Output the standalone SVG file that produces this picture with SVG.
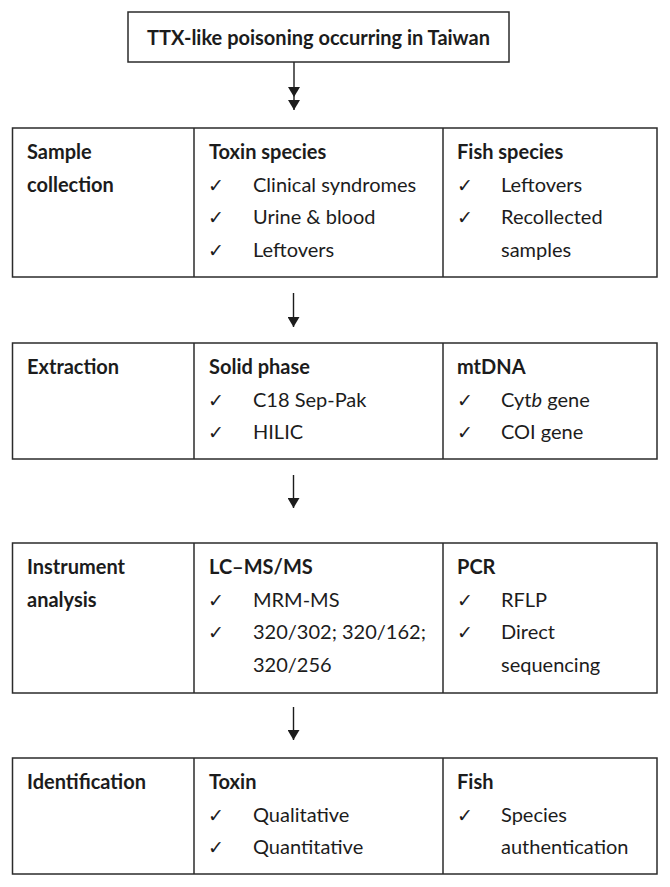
<svg xmlns="http://www.w3.org/2000/svg" width="670" height="887" viewBox="0 0 670 887">
<defs>
<style>
.box{fill:#fff;stroke:#2b2b2b;stroke-width:1.5}
.div{stroke:#2b2b2b;stroke-width:1.5}
.t{font-family:Lato,"Liberation Sans",sans-serif;font-size:20px;fill:#1c1c1c}
.b{font-weight:bold}
.ck{font-family:"DejaVu Sans",sans-serif;font-size:19px;fill:#1c1c1c}
.con{stroke:#1c1c1c;stroke-width:1.4;fill:none}
.head{fill:#1c1c1c}
</style>
<marker id="ah" viewBox="0 0 10 12" refX="10" refY="6" markerWidth="10" markerHeight="12" markerUnits="userSpaceOnUse" orient="auto"><path d="M0,0 L10,6 L0,12 Z" class="head"/></marker>
</defs>
<rect width="670" height="887" fill="#fff"/>

<g id="connectors">
<line class="con" x1="294" y1="62" x2="294" y2="97" marker-end="url(#ah)"/>
<line class="con" x1="294" y1="97" x2="294" y2="110" marker-end="url(#ah)"/>
<line class="con" x1="293.5" y1="293" x2="293.5" y2="327" marker-end="url(#ah)"/>
<line class="con" x1="293.5" y1="475" x2="293.5" y2="508" marker-end="url(#ah)"/>
<line class="con" x1="293.5" y1="707" x2="293.5" y2="740" marker-end="url(#ah)"/>
</g>

<g id="top">
<rect class="box" x="128" y="12" width="381" height="50"/>
<text class="t b" x="318.5" y="45" text-anchor="middle">TTX-like poisoning occurring in Taiwan</text>
</g>

<g id="sample-collection">
<rect class="box" x="12.5" y="128" width="644.5" height="149"/>
<line class="div" x1="194" y1="128" x2="194" y2="277"/>
<line class="div" x1="443" y1="128" x2="443" y2="277"/>
<text class="t b" x="27" y="159">Sample</text>
<text class="t b" x="27" y="191.5">collection</text>
<text class="t b" x="209" y="159">Toxin species</text>
<text class="ck" x="208" y="191.5">✓</text><text class="t" x="253" y="191.5">Clinical syndromes</text>
<text class="ck" x="208" y="224">✓</text><text class="t" x="253" y="224">Urine &amp; blood</text>
<text class="ck" x="208" y="256.5">✓</text><text class="t" x="253" y="256.5">Leftovers</text>
<text class="t b" x="457" y="159">Fish species</text>
<text class="ck" x="457" y="191.5">✓</text><text class="t" x="501" y="191.5">Leftovers</text>
<text class="ck" x="457" y="224">✓</text><text class="t" x="501" y="224">Recollected</text>
<text class="t" x="501" y="256.5">samples</text>
</g>

<g id="extraction">
<rect class="box" x="12.5" y="343" width="644.5" height="116"/>
<line class="div" x1="194" y1="343" x2="194" y2="459"/>
<line class="div" x1="443" y1="343" x2="443" y2="459"/>
<text class="t b" x="27" y="374">Extraction</text>
<text class="t b" x="209" y="374">Solid phase</text>
<text class="ck" x="208" y="406.5">✓</text><text class="t" x="253" y="406.5">C18 Sep-Pak</text>
<text class="ck" x="208" y="439">✓</text><text class="t" x="253" y="439">HILIC</text>
<text class="t b" x="457" y="374">mtDNA</text>
<text class="ck" x="457" y="406.5">✓</text><text class="t" x="501" y="406.5">Cyt<tspan font-style="italic">b</tspan> gene</text>
<text class="ck" x="457" y="439">✓</text><text class="t" x="501" y="439">COI gene</text>
</g>

<g id="instrument-analysis">
<rect class="box" x="12.5" y="543" width="644.5" height="150"/>
<line class="div" x1="194" y1="543" x2="194" y2="693"/>
<line class="div" x1="443" y1="543" x2="443" y2="693"/>
<text class="t b" x="27" y="574">Instrument</text>
<text class="t b" x="27" y="606.5">analysis</text>
<text class="t b" x="209" y="574">LC–MS/MS</text>
<text class="ck" x="208" y="606.5">✓</text><text class="t" x="253" y="606.5">MRM-MS</text>
<text class="ck" x="208" y="639">✓</text><text class="t" x="253" y="639">320/302; 320/162;</text>
<text class="t" x="253" y="671.5">320/256</text>
<text class="t b" x="457" y="574">PCR</text>
<text class="ck" x="457" y="606.5">✓</text><text class="t" x="501" y="606.5">RFLP</text>
<text class="ck" x="457" y="639">✓</text><text class="t" x="501" y="639">Direct</text>
<text class="t" x="501" y="671.5">sequencing</text>
</g>

<g id="identification">
<rect class="box" x="12.5" y="758" width="644.5" height="116"/>
<line class="div" x1="194" y1="758" x2="194" y2="874"/>
<line class="div" x1="443" y1="758" x2="443" y2="874"/>
<text class="t b" x="27" y="789">Identification</text>
<text class="t b" x="209" y="789">Toxin</text>
<text class="ck" x="208" y="821.5">✓</text><text class="t" x="253" y="821.5">Qualitative</text>
<text class="ck" x="208" y="854">✓</text><text class="t" x="253" y="854">Quantitative</text>
<text class="t b" x="457" y="789">Fish</text>
<text class="ck" x="457" y="821.5">✓</text><text class="t" x="501" y="821.5">Species</text>
<text class="t" x="501" y="854">authentication</text>
</g>
</svg>
